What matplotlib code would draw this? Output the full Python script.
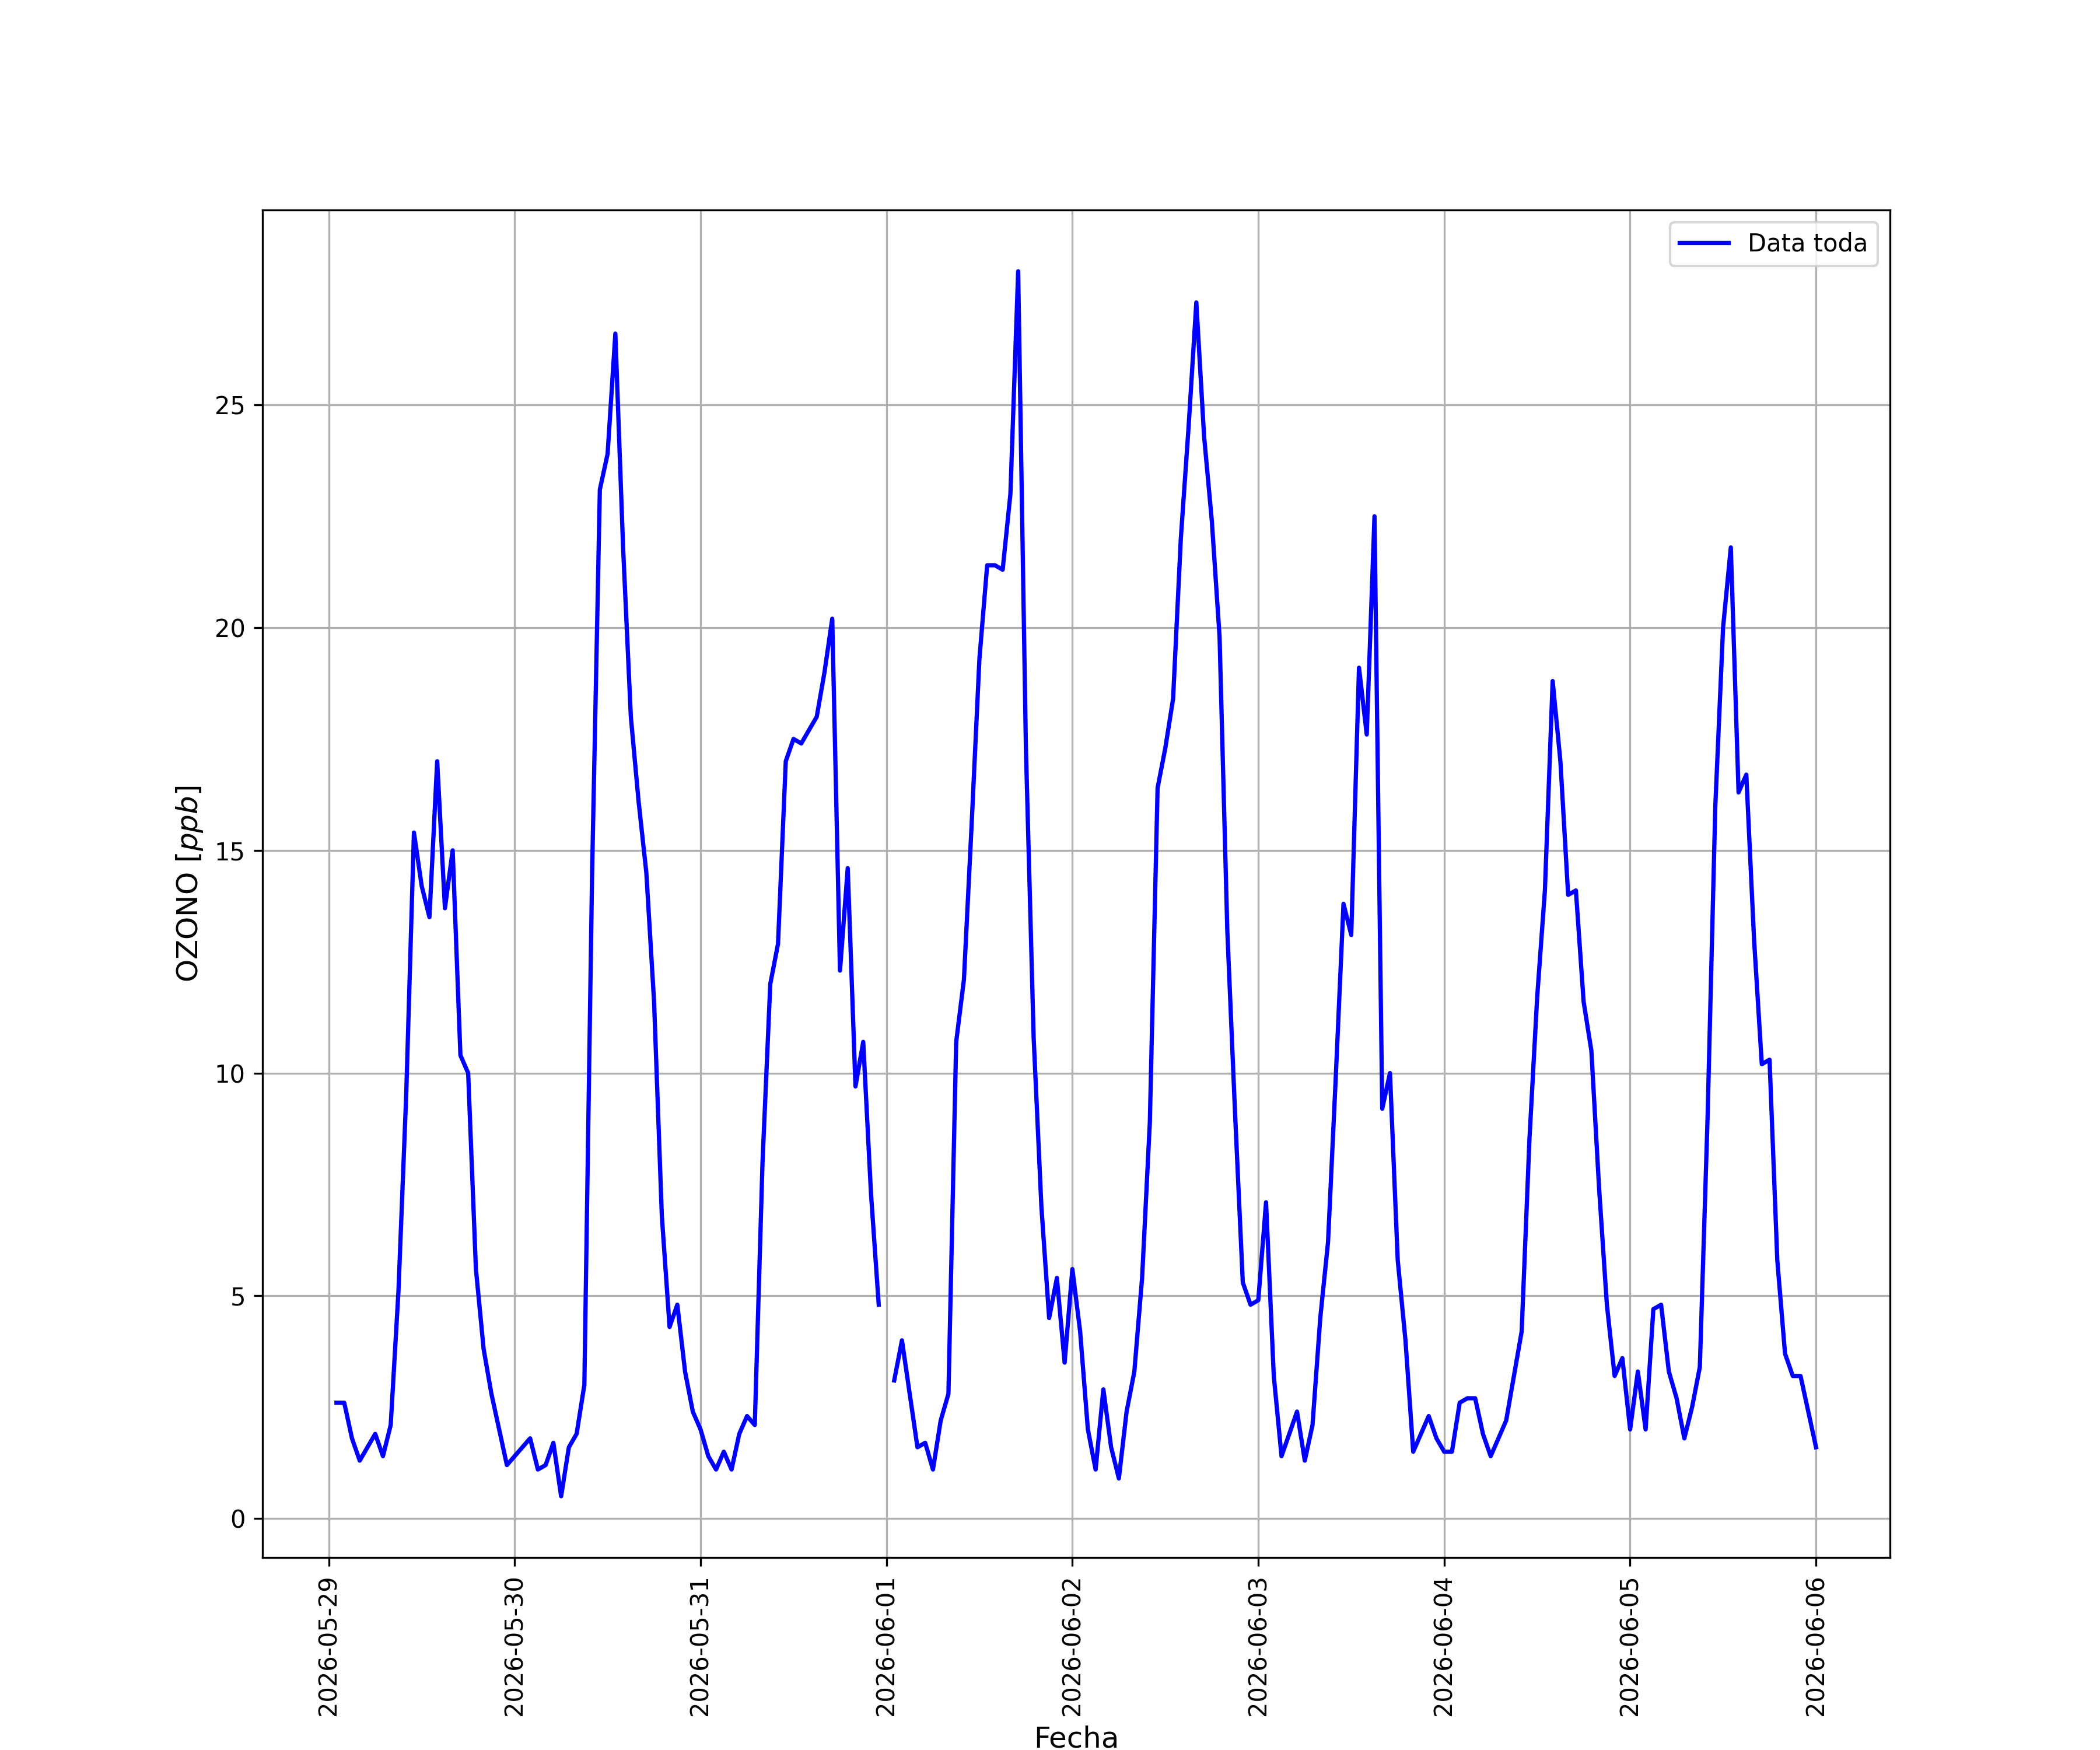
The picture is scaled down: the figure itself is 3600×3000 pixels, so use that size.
import numpy as np
import pandas as pd
import matplotlib
matplotlib.use('Agg')
import matplotlib.pyplot as plt


# datos horarios de ozono (ppb), desde 2026-05-29 01:00 hasta 2026-06-06 00:00
ozono_0529 = [2.6, 2.6, 1.8, 1.3, 1.6, 1.9, 1.4, 2.1, 5.1, 9.5, 15.4, 14.2,
              13.5, 17.0, 13.7, 15.0, 10.4, 10.0, 5.6, 3.8, 2.8, 2.0, 1.2]
ozono_0530 = [1.4, 1.6, 1.8, 1.1, 1.2, 1.7, 0.5, 1.6, 1.9, 3.0, 14.5, 23.1,
              23.9, 26.6, 21.8, 18.0, 16.1, 14.5, 11.6, 6.8, 4.3, 4.8, 3.3, 2.4]
ozono_0531 = [2.0, 1.4, 1.1, 1.5, 1.1, 1.9, 2.3, 2.1, 8.0, 12.0, 12.9, 17.0,
              17.5, 17.4, 17.7, 18.0, 19.0, 20.2, 12.3, 14.6, 9.7, 10.7, 7.3, 4.8]
ozono_0601 = [np.nan, 3.1, 4.0, 2.8, 1.6, 1.7, 1.1, 2.2, 2.8, 10.7, 12.1, 15.6,
              19.3, 21.4, 21.4, 21.3, 23.0, 28.0, 17.3, 10.8, 7.0, 4.5, 5.4, 3.5]
ozono_0602 = [5.6, 4.2, 2.0, 1.1, 2.9, 1.6, 0.9, 2.4, 3.3, 5.4, 8.9, 16.4,
              17.3, 18.4, 22.0, 24.5, 27.3, 24.3, 22.4, 19.8, 13.2, 9.1, 5.3, 4.8]
ozono_0603 = [4.9, 7.1, 3.2, 1.4, 1.9, 2.4, 1.3, 2.1, 4.5, 6.2, 9.9, 13.8,
              13.1, 19.1, 17.6, 22.5, 9.2, 10.0, 5.8, 4.0, 1.5, 1.9, 2.3, 1.8]
ozono_0604 = [1.5, 1.5, 2.6, 2.7, 2.7, 1.9, 1.4, 1.8, 2.2, 3.2, 4.2, 8.5,
              11.7, 14.1, 18.8, 17.0, 14.0, 14.1, 11.6, 10.5, 7.4, 4.8, 3.2, 3.6]
ozono_0605 = [2.0, 3.3, 2.0, 4.7, 4.8, 3.3, 2.7, 1.8, 2.5, 3.4, 9.0, 16.0,
              20.0, 21.8, 16.3, 16.7, 13.0, 10.2, 10.3, 5.8, 3.7, 3.2, 3.2, 2.4]
ozono_0606 = [1.6]

ozono = (ozono_0529 + ozono_0530 + ozono_0531 + ozono_0601 + ozono_0602
         + ozono_0603 + ozono_0604 + ozono_0605 + ozono_0606)

fechas = pd.date_range('2026-05-29 01:00', periods=len(ozono), freq='h')


fig = plt.figure(figsize=(12, 10))
ax = fig.add_subplot(111)

ax.plot(fechas, ozono, color='blue', linewidth=1.75, label='Data toda')

ax.set_xlabel('Fecha', fontsize=12)
ax.set_ylabel('OZONO [$ppb$]', fontsize=12)
plt.xticks(rotation=90)
ax.grid(True)
ax.legend(loc='upper right')

fig.savefig('out.png', dpi=300)
